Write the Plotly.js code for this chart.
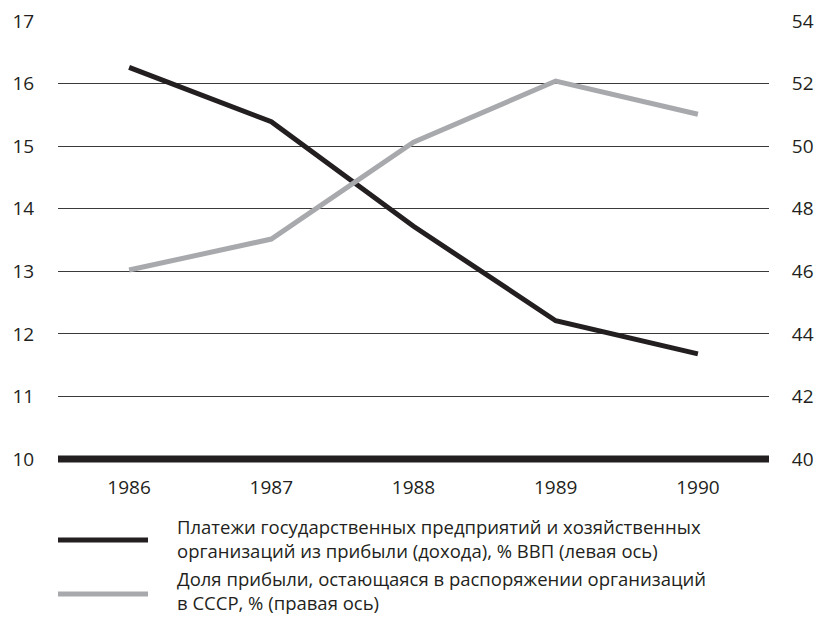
<!DOCTYPE html>
<html><head><meta charset="utf-8">
<script src="https://cdn.plot.ly/plotly-3.0.1.min.js"></script>
<style>body{margin:0;background:#fff}#chart{width:816px;height:617px}</style>
</head><body><div id="chart"></div>
<script>
const years = ['1986','1987','1988','1989','1990'];
const payments = [16.26, 15.39, 13.72, 12.21, 11.68];
const profitShare = [46.04, 47.03, 50.13, 52.08, 51.02];
const leftTicks = [10,11,12,13,14,15,16,17];
const rightTicks = [40,42,44,46,48,50,52,54];
const seriesNames = [
  'Платежи государственных предприятий и хозяйственных<br>организаций из прибыли (дохода), % ВВП (левая ось)',
  'Доля прибыли, остающаяся в распоряжении организаций<br>в СССР, % (правая ось)'
];

const BLACK = '#231f20', GRAY = '#a7a9ac';
const FONT = '"Open Sans", "Noto Sans", sans-serif';

const data = [
  {x: years, y: payments, type:'scatter', mode:'lines', yaxis:'y', name: seriesNames[0],
   line:{color:BLACK, width:5}, showlegend:false},
  {x: years, y: profitShare, type:'scatter', mode:'lines', yaxis:'y2', name: seriesNames[1],
   line:{color:GRAY, width:5}, showlegend:false}
];

const layout = {
  width:816, height:617,
  margin:{l:58, r:47, t:21, b:158},
  paper_bgcolor:'#fff', plot_bgcolor:'#fff',
  font:{family:FONT, size:19, color:BLACK},
  xaxis:{type:'category', range:[-0.5,4.5], showgrid:false, zeroline:false, showline:false,
    ticks:'outside', ticklen:11, tickcolor:'rgba(0,0,0,0)', tickfont:{size:19, color:BLACK}},
  yaxis:{range:[10,17], tickvals:leftTicks, showgrid:true, gridcolor:'#3a3a3a', gridwidth:1,
    zeroline:false, showline:false, ticks:'outside', ticklen:19, tickcolor:'rgba(0,0,0,0)',
    tickfont:{size:19, color:BLACK}},
  yaxis2:{range:[40,54], tickvals:rightTicks, overlaying:'y', side:'right', showgrid:false,
    zeroline:false, showline:false, ticks:'outside', ticklen:18, tickcolor:'rgba(0,0,0,0)',
    tickfont:{size:19, color:BLACK}},
  shapes:[
    {type:'line', xref:'paper', yref:'paper', x0:0, x1:1, y0:0, y1:0,
     line:{color:BLACK, width:7}, layer:'above'},
    {type:'line', xref:'paper', yref:'paper', x0:0, x1:90/711, y0:-0.185, y1:-0.185,
     line:{color:BLACK, width:5}},
    {type:'line', xref:'paper', yref:'paper', x0:0, x1:90/711, y0:-0.308, y1:-0.308,
     line:{color:GRAY, width:5}}
  ],
  annotations:[
    {xref:'paper', yref:'paper', x:118/711, y:-0.1804, xanchor:'left', yanchor:'middle', align:'left',
     text:seriesNames[0], showarrow:false, borderpad:0, font:{size:18.5, color:BLACK}},
    {xref:'paper', yref:'paper', x:118/711, y:-0.2995, xanchor:'left', yanchor:'middle', align:'left',
     text:seriesNames[1], showarrow:false, borderpad:0, font:{size:18.5, color:BLACK}}
  ]
};
Plotly.newPlot('chart', data, layout, {staticPlot:true});
</script></body></html>
